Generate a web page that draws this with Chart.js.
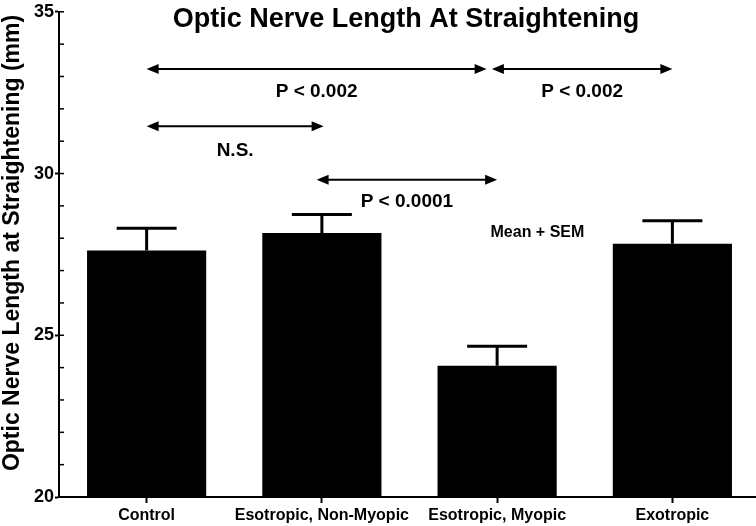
<!DOCTYPE html>
<html>
<head>
<meta charset="utf-8">
<script src="https://cdn.jsdelivr.net/npm/chart.js@4/dist/chart.umd.min.js"></script>
<style>
  html, body { margin: 0; padding: 0; background: #fff; overflow: hidden; }
  #wrap { width: 760px; height: 526px; }
</style>
</head>
<body>
<div id="wrap"><canvas id="myChart" width="760" height="526"></canvas></div>
<script>
// data
const categories = ['Control', 'Esotropic, Non-Myopic', 'Esotropic, Myopic', 'Exotropic'];
const means = [27.62, 28.16, 24.06, 27.83];
const sem = [0.69, 0.57, 0.60, 0.71];

// comparison arrows (category index positions) and their labels
const compFrom = [0, 1.97, 0, 0.97];
const compTo = [1.94, 3, 1.01, 2];
const compY = [33.23, 33.23, 31.46, 29.81];
const compLabels = ['P < 0.002', 'P < 0.002', 'N.S.', 'P < 0.0001'];
const compLabelY = [32.53, 32.53, 30.69, 29.12];

const yTicks = [20, 25, 30, 35];
const FONT = '"Liberation Sans", Arial, sans-serif';

function arrowHead(ctx, x, y, dir) {
    ctx.beginPath();
    ctx.moveTo(x, y);
    ctx.lineTo(x - dir * 12, y - 5);
    ctx.lineTo(x - dir * 12, y + 5);
    ctx.closePath();
    ctx.fill();
}

// error bars (mean + SEM, upward only)
const errorBars = {
    id: 'errorBars',
    afterDatasetsDraw(chart) {
        const ctx = chart.ctx;
        const y = chart.scales.y;
        const meta = chart.getDatasetMeta(0);
        ctx.save();
        ctx.strokeStyle = '#000';
        ctx.lineWidth = 3;
        meta.data.forEach((bar, i) => {
            const top = y.getPixelForValue(means[i] + sem[i]);
            ctx.beginPath();
            ctx.moveTo(bar.x, bar.y);
            ctx.lineTo(bar.x, top);
            ctx.moveTo(bar.x - 30, top);
            ctx.lineTo(bar.x + 30, top);
            ctx.stroke();
        });
        ctx.restore();
    }
};

// minor ticks, titles, comparison arrows and labels
const annotations = {
    id: 'annotations',
    afterDraw(chart) {
        const ctx = chart.ctx;
        const x = chart.scales.x;
        const y = chart.scales.y;
        const area = chart.chartArea;
        ctx.save();
        ctx.strokeStyle = '#000';
        ctx.fillStyle = '#000';

        // inward minor ticks on the y axis
        ctx.lineWidth = 1.5;
        for (let v = y.min; v <= y.max; v++) {
            const py = y.getPixelForValue(v);
            ctx.beginPath();
            ctx.moveTo(area.left, py);
            ctx.lineTo(area.left + 5, py);
            ctx.stroke();
        }

        ctx.textAlign = 'center';
        ctx.textBaseline = 'middle';

        // y axis title
        ctx.save();
        ctx.translate(13, 243);
        ctx.rotate(-Math.PI / 2);
        ctx.font = 'bold 23px ' + FONT;
        ctx.fillText('Optic Nerve Length at Straightening (mm)', 0, 0);
        ctx.restore();

        // chart title
        ctx.font = 'bold 27px ' + FONT;
        ctx.fillText('Optic Nerve Length At Straightening', 406, 20);

        // arrows
        ctx.lineWidth = 2;
        compLabels.forEach((lab, i) => {
            const x1 = x.getPixelForValue(compFrom[i]);
            const x2 = x.getPixelForValue(compTo[i]);
            const py = y.getPixelForValue(compY[i]);
            ctx.beginPath();
            ctx.moveTo(x1 + 4, py);
            ctx.lineTo(x2 - 4, py);
            ctx.stroke();
            arrowHead(ctx, x1, py, -1);
            arrowHead(ctx, x2, py, 1);

            ctx.font = 'bold 19px ' + FONT;
            const lx = x.getPixelForValue((compFrom[i] + compTo[i]) / 2);
            ctx.fillText(lab, lx, y.getPixelForValue(compLabelY[i]));
        });

        ctx.font = 'bold 16px ' + FONT;
        ctx.fillText('Mean + SEM', x.getPixelForValue(2.23), y.getPixelForValue(28.18));
        ctx.restore();
    }
};

const ctx = document.getElementById('myChart').getContext('2d');
const myChart = new Chart(ctx, {
    type: 'bar',
    data: {
        labels: categories,
        datasets: [{
            data: means,
            backgroundColor: '#000',
            borderWidth: 0,
            barPercentage: 0.68,
            categoryPercentage: 1
        }]
    },
    options: {
        responsive: false,
        animation: false,
        layout: { padding: { top: 7, right: 0, left: 0, bottom: 0 } },
        plugins: {
            legend: { display: false },
            tooltip: { enabled: false }
        },
        scales: {
            x: {
                afterFit: s => { s.height = 29; },
                grid: {
                    offset: false,
                    drawOnChartArea: false,
                    tickLength: 6,
                    tickColor: '#000',
                    tickWidth: 2
                },
                border: { color: '#000', width: 2 },
                ticks: {
                    color: '#000',
                    padding: 3,
                    maxRotation: 0,
                    autoSkip: false,
                    font: { family: FONT, size: 16, weight: 'bold' }
                }
            },
            y: {
                min: 20,
                max: 35,
                afterFit: s => { s.width = 59; },
                grid: {
                    drawOnChartArea: false,
                    tickLength: 4,
                    tickColor: c => yTicks.includes(c.tick.value) ? '#000' : 'rgba(0,0,0,0)',
                    tickWidth: 2
                },
                border: { color: '#000', width: 2 },
                ticks: {
                    stepSize: 1,
                    padding: 1,
                    color: '#000',
                    callback: v => yTicks.includes(v) ? v : '',
                    font: { family: FONT, size: 18, weight: 'bold' }
                }
            }
        }
    },
    plugins: [errorBars, annotations]
});
</script>
</body>
</html>
